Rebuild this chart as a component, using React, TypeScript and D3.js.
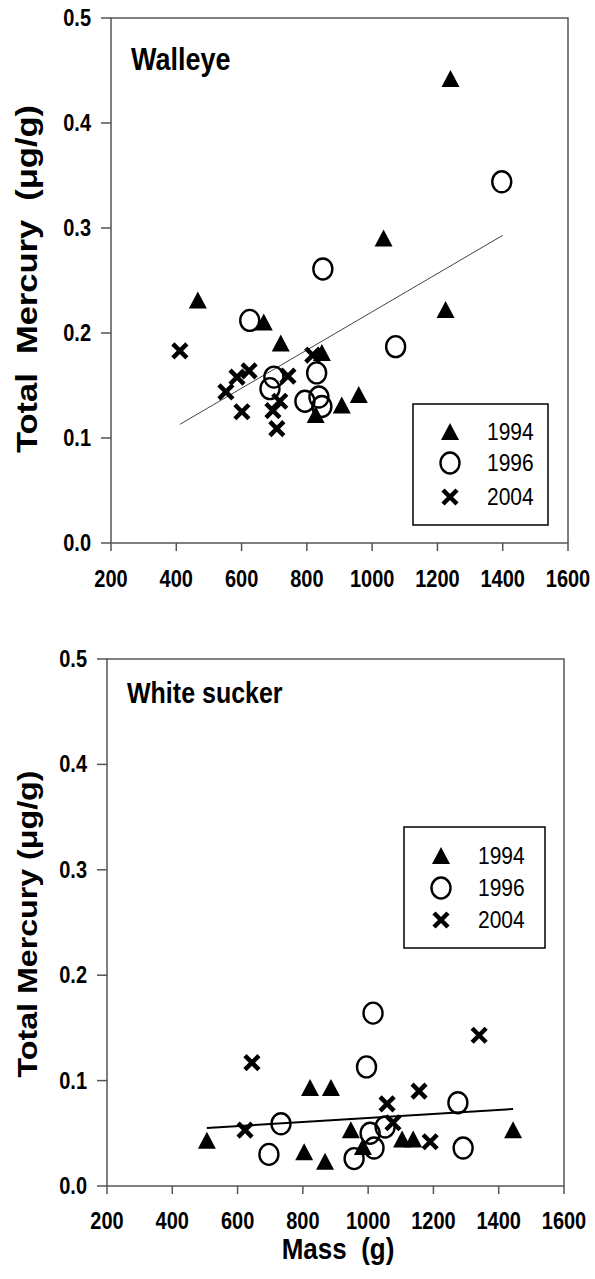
import * as d3 from 'd3';

// Mass (g), Total mercury (ug/g)
const walleye1994 = [
  [466, 0.231], [668, 0.21], [720, 0.19], [846, 0.181], [827, 0.122],
  [907, 0.131], [959, 0.141], [1035, 0.29], [1225, 0.222], [1240, 0.442],
];
const walleye1996 = [
  [625, 0.212], [687, 0.147], [699, 0.158], [794, 0.135], [830, 0.162],
  [837, 0.139], [846, 0.13], [849, 0.261], [1072, 0.187], [1397, 0.344],
];
const walleye2004 = [
  [411, 0.183], [552, 0.144], [586, 0.158], [601, 0.125], [623, 0.164],
  [696, 0.126], [708, 0.109], [717, 0.135], [742, 0.159], [818, 0.179],
];
const walleyeFit = [[411, 0.113], [1400, 0.293]];

const sucker1994 = [
  [506, 0.043], [804, 0.032], [822, 0.093], [868, 0.023], [886, 0.093],
  [947, 0.053], [984, 0.037], [1104, 0.044], [1138, 0.044], [1444, 0.053],
];
const sucker1996 = [
  [696, 0.03], [733, 0.059], [957, 0.026], [995, 0.113], [1006, 0.05],
  [1015, 0.164], [1018, 0.036], [1052, 0.056], [1275, 0.079], [1291, 0.036],
];
const sucker2004 = [
  [623, 0.053], [644, 0.117], [1058, 0.078], [1076, 0.06], [1156, 0.09],
  [1190, 0.042], [1340, 0.143],
];
const suckerFit = [[506, 0.055], [1444, 0.073]];

const massTicks = [200, 400, 600, 800, 1000, 1200, 1400, 1600];
const hgTicks = [0, 0.1, 0.2, 0.3, 0.4, 0.5];
const legendYears = ['1994', '1996', '2004'];

const FONT = '"Liberation Sans", Arial, sans-serif';
const K = 1.15; // the figure is stretched vertically

type Pt = number[];

function SText({ x, y, size, weight = 'bold', anchor = 'start', children, rotate = false }: any) {
  const t = rotate
    ? `translate(${x},${y}) scale(1,${K}) rotate(-90)`
    : `translate(${x},${y}) scale(1,${K})`;
  return (
    <text transform={t} fontFamily={FONT} fontSize={size} fontWeight={weight}
      textAnchor={anchor} fill="#000" style={{ whiteSpace: 'pre' }}>
      {children}
    </text>
  );
}

function Marker({ kind, x, y }: { kind: string; x: number; y: number }) {
  if (kind === 'tri') {
    return <path d={`M${x},${y - 9}L${x + 9},${y + 8}L${x - 9},${y + 8}Z`} fill="#000" />;
  }
  if (kind === 'circ') {
    return <ellipse cx={x} cy={y} rx={9.5} ry={10.5} fill="none" stroke="#000" strokeWidth={2.4} />;
  }
  return (
    <path d={`M${x - 7},${y - 7}L${x + 7},${y + 7}M${x + 7},${y - 7}L${x - 7},${y + 7}`}
      stroke="#000" strokeWidth={4.5} />
  );
}

function Panel({ left, right, top, bottom, title, titleSize, titleY, series, fit, fitStyle, legend, yLabel, yLabelSize, yLabelY, xTickY }: any) {
  const x = d3.scaleLinear().domain([200, 1600]).range([left, right]);
  const y = d3.scaleLinear().domain([0, 0.5]).range([bottom, top]);
  const line = d3.line<Pt>().x(d => x(d[0])).y(d => y(d[1]));
  const kinds = ['tri', 'circ', 'x'];

  return (
    <g>
      <rect x={left} y={top} width={right - left} height={bottom - top}
        fill="none" stroke="#555" strokeWidth={1.5} />
      {hgTicks.map(t => (
        <g key={'y' + t}>
          <line x1={left - 10} x2={left} y1={y(t)} y2={y(t)} stroke="#555" strokeWidth={1.5} />
          <SText x={left - 20} y={y(t) + 8} size={20} anchor="end">{t.toFixed(1)}</SText>
        </g>
      ))}
      {massTicks.map(t => (
        <g key={'x' + t}>
          <line x1={x(t)} x2={x(t)} y1={bottom} y2={bottom + 8} stroke="#555" strokeWidth={1.5} />
          <SText x={x(t)} y={xTickY} size={20} anchor="middle">{t}</SText>
        </g>
      ))}
      <SText x={left + 20} y={titleY} size={titleSize}>{title}</SText>
      <SText x={37} y={yLabelY} size={yLabelSize} anchor="middle" rotate>{yLabel}</SText>

      <path d={line(fit) || ''} fill="none" stroke={fitStyle.color} strokeWidth={fitStyle.width} />

      {series.map((s: Pt[], i: number) =>
        s.map((d, j) => <Marker key={i + '-' + j} kind={kinds[i]} x={x(d[0])} y={y(d[1])} />)
      )}

      <rect x={legend.x} y={legend.y} width={legend.w} height={legend.h}
        fill="#fff" stroke="#000" strokeWidth={1.5} />
      {legendYears.map((yr, i) => (
        <g key={yr}>
          <Marker kind={kinds[i]} x={legend.x + 37} y={legend.y + legend.rows[i]} />
          <SText x={legend.x + 74} y={legend.y + legend.rows[i] + 8} size={21} weight="normal">{yr}</SText>
        </g>
      ))}
    </g>
  );
}

export default function App() {
  return (
    <svg width={595} height={1279} style={{ position: 'absolute', left: 0, top: 0, background: '#fff' }}>
      <rect width={595} height={1279} fill="#fff" />
      <Panel left={111} right={568} top={18} bottom={543}
        title="Walleye" titleSize={27} titleY={70}
        series={[walleye1994, walleye1996, walleye2004]}
        fit={walleyeFit} fitStyle={{ color: '#444', width: 1 }}
        legend={{ x: 413, y: 404, w: 135, h: 121, rows: [28, 59, 93] }}
        yLabel="Total  Mercury  (μg/g)" yLabelSize={30} yLabelY={279}
        xTickY={587} />
      <Panel left={107} right={564} top={659} bottom={1186}
        title="White sucker" titleSize={25} titleY={703}
        series={[sucker1994, sucker1996, sucker2004]}
        fit={suckerFit} fitStyle={{ color: '#000', width: 2 }}
        legend={{ x: 404, y: 827, w: 141, h: 121, rows: [29, 61, 93] }}
        yLabel="Total Mercury (μg/g)" yLabelSize={28} yLabelY={924}
        xTickY={1229} />
      <SText x={338} y={1259} size={26} anchor="middle">{'Mass  (g)'}</SText>
    </svg>
  );
}
